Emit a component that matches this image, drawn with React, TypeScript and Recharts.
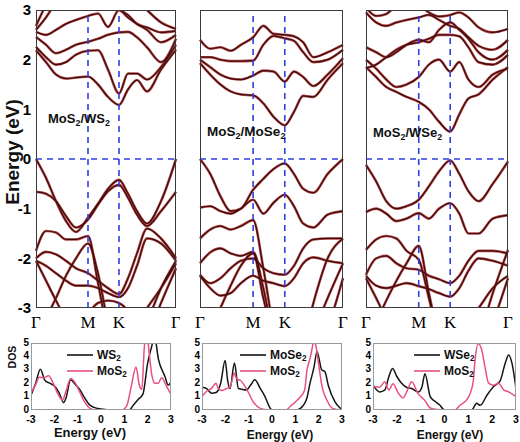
import React from 'react';
import { LineChart, Line, XAxis, YAxis, ReferenceLine, Legend } from 'recharts';

// ---------- band structure data ----------
const kPath = [0, 10, 20, 30, 40, 52, 62, 72, 83, 92, 101, 111, 125, 140];
const kTicks = [0, 52, 83, 140];
const kLabels = ['Γ', 'M', 'K', 'Γ'];
const energyTicks = [-3, -2, -1, 0, 1, 2, 3];

const bandsMoS2WS2 = [
  [2.19, 1.95, 1.7, 1.62, 1.64, 1.66, 1.5, 1.25, 1.09, 1.4, 1.59, 1.36, 1.8, 2.2],
  [2.26, 2.05, 1.9, 1.95, 2.1, 2.18, 2.19, 1.8, 1.32, 1.72, 1.72, 1.6, 1.85, 2.3],
  [2.46, 2.3, 2.13, 2.2, 2.3, 2.36, 2.42, 2.5, 2.55, 2.56, 2.45, 2.25, 1.95, 2.42],
  [2.56, 2.5, 2.6, 2.72, 2.8, 2.88, 2.93, 2.66, 3.0, 2.85, 2.72, 2.6, 2.35, 2.5],
  [2.6, 2.85, 3.15, 3.3, 3.2, 3.05, 3.0, 3.05, 3.0, 2.9, 2.72, 2.65, 2.55, 2.58],
  [2.68, 3.1, 3.4, 3.5, 3.4, 3.3, 3.2, 3.1, 3.1, 3.15, 3.2, 3.0, 2.75, 2.62],
  [0, -0.38, -0.85, -1.25, -1.47, -1.18, -0.9, -0.6, -0.42, -0.7, -1.05, -1.3, -0.85, 0],
  [-0.66, -0.7, -0.85, -1.15, -1.38, -1.22, -0.92, -0.65, -0.52, -0.78, -1.12, -1.35, -1.05, -0.66],
  [-1.85, -1.45, -1.48, -1.62, -1.62, -1.55, -2.5, -3.5, -4, -4, -3.8, -3.3, -2.6, -2.05],
  [-2.0, -1.87, -1.92, -2.05, -2.2, -2.3, -2.45, -2.6, -2.72, -2.4, -1.9, -1.4, -1.6, -2.0],
  [-2.05, -2.15, -2.3, -2.45, -2.55, -2.55, -2.6, -2.7, -2.78, -2.6, -2.15, -1.6, -1.7, -2.05],
  [-3.6, -3.2, -2.8, -2.35, -2.0, -1.7, -2.3, -3.3, -4, -4, -4, -3.6, -2.9, -2.2],
  [-2.05, -2.45, -2.85, -3.2, -3.3, -3.1, -2.9, -2.85, -2.9, -3.05, -3.3, -3.0, -2.6, -2.1],
];

const bandsMoS2MoSe2 = [
  [1.93, 1.7, 1.5, 1.36, 1.3, 1.28, 1.12, 0.85, 0.68, 0.95, 1.27, 1.25, 1.6, 1.93],
  [2.0, 1.85, 1.7, 1.62, 1.6, 1.68, 1.78, 1.76, 1.56, 1.76, 1.65, 1.47, 1.7, 2.03],
  [2.05, 2.05, 2.0, 1.97, 1.97, 1.98, 2.3, 2.48, 2.43, 2.38, 2.15, 1.95, 2.0, 2.2],
  [2.4, 2.22, 2.25, 2.18, 2.3, 2.45, 2.68, 2.52, 2.5, 2.47, 2.35, 2.05, 2.15, 2.3],
  [0, -0.3, -0.75, -1.05, -1.0, -0.62, -0.4, -0.2, -0.09, -0.3, -0.6, -0.68, -0.3, 0],
  [-0.98, -0.95, -1.05, -1.1, -1.0, -0.82, -1.1, -0.88, -0.72, -0.95, -1.3, -1.38, -1.12, -1.05],
  [-1.6, -1.42, -1.35, -1.42, -1.35, -1.23, -2.2, -3.4, -4, -4, -3.7, -2.9, -2.0, -1.6],
  [-2.1, -1.88, -1.8, -1.9, -1.95, -1.87, -2.6, -3.6, -4, -4, -4, -3.5, -2.8, -2.1],
  [-2.33, -2.5, -2.4, -2.2, -2.05, -2.0, -2.2, -2.3, -2.33, -2.15, -1.8, -1.62, -1.6, -1.6],
  [-2.35, -2.6, -2.75, -2.7, -2.5, -2.35, -2.45, -2.5, -2.56, -2.4, -2.1, -1.98, -2.05, -2.1],
  [-3.9, -3.5, -3.0, -2.55, -2.15, -1.9, -2.8, -3.6, -4, -4, -4, -4, -3.4, -2.4],
];

const bandsMoS2WSe2 = [
  [1.85, 1.65, 1.45, 1.35, 1.25, 1.15, 1.0, 0.75, 0.55, 0.9, 1.22, 1.3, 1.6, 1.85],
  [2.0, 1.82, 1.6, 1.45, 1.5, 1.65, 1.9, 2.0, 1.76, 1.95, 1.6, 1.45, 1.7, 1.82],
  [1.83, 1.9, 2.05, 2.2, 2.3, 2.35, 2.42, 2.5, 2.5, 2.47, 2.25, 1.95, 1.9, 2.1],
  [2.25, 2.15, 2.05, 2.15, 2.3, 2.4, 2.35, 2.6, 2.75, 2.6, 2.42, 2.15, 2.0, 2.2],
  [2.95, 2.75, 2.68, 2.75, 2.8, 2.85, 2.9, 2.8, 2.68, 2.62, 2.45, 2.28, 2.2, 2.4],
  [3.05, 2.88, 2.92, 3.1, 3.2, 3.1, 2.95, 2.87, 2.9, 2.95, 2.85, 2.65, 2.55, 2.62],
  [-0.12, -0.45, -0.85, -1.0, -0.95, -0.82, -0.55, -0.25, -0.03, -0.3, -0.65, -0.85, -0.5, -0.05],
  [-1.07, -1.0, -1.1, -1.25, -1.2, -1.09, -1.2, -1.0, -0.89, -1.1, -1.5, -1.5, -1.2, -1.13],
  [-1.83, -1.62, -1.55, -1.6, -1.85, -2.03, -2.8, -3.6, -4, -4, -4, -3.6, -2.7, -1.83],
  [-2.33, -2.0, -1.95, -2.1, -2.2, -2.23, -2.35, -2.42, -2.5, -2.35, -2.05, -1.85, -1.85, -1.9],
  [-2.35, -2.55, -2.6, -2.55, -2.5, -2.56, -2.62, -2.7, -2.77, -2.6, -2.25, -2.0, -2.05, -2.15],
  [-3.8, -3.3, -2.85, -2.45, -2.1, -1.75, -2.7, -3.6, -4, -4, -4, -4, -3.3, -2.4],
  [-2.4, -2.8, -3.2, -3.4, -3.3, -3.1, -3.0, -3.05, -3.2, -3.3, -3.25, -3.0, -2.6, -2.35],
];

// ---------- DOS data ----------
const dosTicksX = [-3, -2, -1, 0, 1, 2, 3];
const dosTicksY = [0, 1, 2, 3, 4, 5];

const ws2Energy = [-3, -2.8, -2.6, -2.4, -2.2, -2.0, -1.8, -1.6, -1.5, -1.3, -1.1, -0.9, -0.7, -0.5, -0.3, 0, 0.5, 1.0, 1.2, 1.4, 1.6, 1.8, 2.0, 2.15, 2.3, 2.46, 2.74, 2.88, 3.0];
const ws2Dos = [1.1, 2.0, 3.05, 2.2, 2.0, 1.8, 1.3, 0.55, 0.9, 2.25, 1.9, 1.5, 0.9, 0.4, 0.2, 0.08, 0, 0, 0, 0.4, 0.8, 1.2, 3.5, 4.6, 5.4, 3.8, 2.5, 1.85, 2.1];
const mos2AEnergy = [-3, -2.8, -2.65, -2.45, -2.25, -2.05, -1.85, -1.65, -1.5, -1.3, -1.1, -0.9, -0.7, -0.5, -0.3, 0, 0.9, 1.1, 1.3, 1.5, 1.65, 1.75, 1.85, 1.95, 2.05, 2.17, 2.31, 2.45, 2.6, 2.8, 3.0];
const mos2ADos = [1.3, 1.9, 2.45, 2.4, 2.55, 2.0, 1.2, 0.75, 1.4, 2.35, 2.0, 1.3, 0.6, 0.15, 0.02, 0, 0, 0.3, 1.8, 3.2, 1.8, 1.55, 4.5, 6.0, 4.5, 2.7, 2.0, 2.0, 2.4, 1.8, 1.15];

const mose2Energy = [-3, -2.8, -2.6, -2.4, -2.2, -2.01, -1.9, -1.8, -1.61, -1.44, -1.3, -1.09, -0.9, -0.74, -0.5, -0.3, -0.1, 0, 1.0, 1.2, 1.49, 1.63, 1.8, 1.93, 2.13, 2.27, 2.41, 2.7, 3.0];
const mose2Dos = [1.7, 1.6, 1.25, 1.3, 2.0, 3.7, 2.2, 1.6, 3.5, 1.6, 1.55, 1.5, 1.9, 2.25, 1.6, 1.0, 0.2, 0, 0, 0.1, 0.85, 2.0, 3.2, 4.35, 3.0, 2.85, 1.85, 0.6, 0.02];
const mos2BEnergy = [-3, -2.8, -2.6, -2.4, -2.3, -2.15, -1.95, -1.8, -1.7, -1.63, -1.5, -1.35, -1.1, -0.8, -0.5, -0.2, 0, 0.6, 0.8, 1.0, 1.2, 1.4, 1.5, 1.63, 1.72, 1.8, 1.88, 2.0, 2.15, 2.35, 2.6, 3.0];
const mos2BDos = [1.0, 1.4, 1.6, 2.0, 1.6, 1.45, 1.6, 1.7, 2.3, 2.75, 2.3, 2.2, 1.6, 0.6, 0.12, 0.02, 0, 0, 0.3, 0.6, 0.95, 1.5, 3.0, 3.85, 4.6, 5.3, 4.8, 3.4, 1.7, 0.75, 0.12, 0];

const wse2Energy = [-3, -2.72, -2.5, -2.35, -2.18, -2.0, -1.8, -1.6, -1.38, -1.1, -0.95, -0.82, -0.6, -0.4, -0.2, 0, 1.0, 1.14, 1.35, 1.5, 1.78, 2.06, 2.34, 2.55, 2.69, 2.83, 3.0];
const wse2Dos = [1.85, 1.35, 1.5, 2.4, 3.1, 2.5, 2.0, 1.7, 1.6, 1.35, 1.7, 2.7, 1.0, 0.65, 0.37, 0, 0, 0, 0.5, 0.35, 1.1, 1.75, 2.2, 3.5, 4.1, 3.5, 1.6];
const mos2CEnergy = [-3, -2.72, -2.51, -2.33, -2.16, -1.95, -1.74, -1.55, -1.38, -1.1, -0.82, -0.6, -0.3, 0, 0.44, 0.65, 0.93, 1.07, 1.21, 1.28, 1.42, 1.56, 1.7, 1.85, 2.06, 2.27, 2.48, 2.69, 3.0];
const mos2CDos = [1.75, 1.7, 2.1, 1.5, 1.95, 1.3, 0.9, 1.5, 2.1, 1.2, 0.7, 0.15, 0.03, 0, 0, 0.35, 0.75, 1.2, 2.2, 3.7, 4.95, 4.5, 3.2, 2.0, 1.85, 2.0, 1.5, 1.35, 1.0];

// ---------- styles ----------
const SANS = '"Liberation Sans", Arial, sans-serif';
const SERIF = '"Liberation Serif", "Times New Roman", serif';
const BAND_OUTER = '#b24848';
const BAND_INNER = '#3e0a0a';
const DASH_BLUE = '#2f3fe0';
const DOS_BLACK = '#151515';
const DOS_PINK = '#e8507f';

function chem(text: string) {
  const parts = text.split(/(\d+)/);
  return parts.map((p, i) =>
    /^\d+$/.test(p) ? (
      <sub key={i} style={{ fontSize: '0.68em', verticalAlign: '-0.3em', lineHeight: 0 }}>{p}</sub>
    ) : (
      <React.Fragment key={i}>{p}</React.Fragment>
    )
  );
}

function bandRows(bands: number[][]) {
  return kPath.map((k, i) => {
    const row: Record<string, number> = { k };
    bands.forEach((b, j) => {
      row['b' + j] = b[i];
    });
    return row;
  });
}

type BandProps = {
  left: number;
  width: number;
  padLeft: number;
  padRight: number;
  bands: number[][];
  showAxis: boolean;
  title: string;
  titleX: number;
  titleY: number;
  titleSize: number;
};

function BandPanel(p: BandProps) {
  const data = bandRows(p.bands);
  const yW = p.showAxis ? 36 : 0;
  const plotLeft = p.padLeft + yW;
  const plotW = p.width - plotLeft - p.padRight;
  return (
    <div style={{ position: 'absolute', left: p.left, top: 0, width: p.width, height: 340 }}>
      <LineChart width={p.width} height={340} data={data} margin={{ top: 10, right: p.padRight, bottom: 0, left: p.padLeft }}>
        <XAxis
          dataKey="k"
          type="number"
          domain={[0, 140]}
          ticks={kTicks}
          interval={0}
          tickFormatter={(v: number) => kLabels[kTicks.indexOf(v)]}
          axisLine={false}
          tickLine={false}
          height={32}
          tick={{ fontFamily: SERIF, fontSize: 17, fill: '#000' }}
        />
        {p.showAxis ? (
          <YAxis
            type="number"
            domain={[-3, 3]}
            ticks={energyTicks}
            interval={0}
            allowDataOverflow
            width={36}
            axisLine={false}
            tickLine={false}
            tickSize={3}
            tickMargin={2}
            tick={{ fontFamily: SANS, fontSize: 15, fontWeight: 'bold', fill: '#000' }}
          />
        ) : (
          <YAxis
            type="number"
            domain={[-3, 3]}
            ticks={energyTicks}
            interval={0}
            allowDataOverflow
            width={0}
            mirror
            axisLine={false}
            tick={false}
            tickSize={3}
            stroke="#555"
          />
        )}
        {p.bands.map((_, j) => (
          <Line key={'o' + j} dataKey={'b' + j} type="monotone" stroke={BAND_OUTER} strokeWidth={2.6} dot={false} activeDot={false} isAnimationActive={false} />
        ))}
        {p.bands.map((_, j) => (
          <Line key={'i' + j} dataKey={'b' + j} type="monotone" stroke={BAND_INNER} strokeWidth={1.2} dot={false} activeDot={false} isAnimationActive={false} />
        ))}
        <ReferenceLine y={0} stroke={DASH_BLUE} strokeWidth={1.6} strokeDasharray="6 5" />
        <ReferenceLine x={52} stroke={DASH_BLUE} strokeWidth={1.6} strokeDasharray="6 5" />
        <ReferenceLine x={83} stroke={DASH_BLUE} strokeWidth={1.6} strokeDasharray="6 5" />
      </LineChart>
      <div
        style={{
          position: 'absolute',
          left: plotLeft,
          top: 10,
          width: plotW,
          height: 298,
          border: '1px solid #3a3a3a',
          boxSizing: 'border-box',
          pointerEvents: 'none',
        }}
      />
      <div
        style={{
          position: 'absolute',
          left: p.titleX - p.left,
          top: p.titleY,
          fontFamily: SANS,
          fontWeight: 'bold',
          fontSize: p.titleSize,
          lineHeight: '14px',
          whiteSpace: 'nowrap',
          color: '#111',
        }}
      >
        {chem(p.title)}
      </div>
    </div>
  );
}

type DosSeries = { name: string; energy: number[]; dos: number[]; color: string };

type DosProps = {
  left: number;
  width: number;
  yW: number;
  padRight: number;
  series: DosSeries[];
  legendX: number;
  labelX: number;
  labelY: number;
  labelSize: number;
};

function makeLegend(legendX: number, order: string[]) {
  return (props: any) => {
    const items = [...(props.payload || [])].sort(
      (a: any, b: any) => order.indexOf(String(a.value)) - order.indexOf(String(b.value))
    );
    return (
      <div style={{ position: 'absolute', left: legendX, top: 14 }}>
        {items.map((it: any, i: number) => (
          <div key={i} style={{ display: 'flex', alignItems: 'center', height: 16 }}>
            <svg width={26} height={4} style={{ display: 'block' }}>
              <line x1={0} y1={2} x2={26} y2={2} stroke={it.color} strokeWidth={1.6} />
            </svg>
            <span style={{ marginLeft: 4, fontFamily: SANS, fontWeight: 'bold', fontSize: 12, color: '#111', whiteSpace: 'nowrap' }}>
              {chem(String(it.value))}
            </span>
          </div>
        ))}
      </div>
    );
  };
}

function DosPanel(p: DosProps) {
  const plotLeft = p.yW;
  const plotW = p.width - p.yW - p.padRight;
  const order = p.series.map((s) => s.name);
  return (
    <div style={{ position: 'absolute', left: p.left, top: 333, width: p.width, height: 91 }}>
      <LineChart width={p.width} height={91} margin={{ top: 10, right: p.padRight, bottom: 0, left: 0 }}>
        <XAxis
          dataKey="e"
          type="number"
          domain={[-3, 3]}
          ticks={dosTicksX}
          interval={0}
          allowDataOverflow
          axisLine={false}
          tickLine={false}
          tickSize={0}
          tickMargin={6}
          height={14}
          tick={{ fontFamily: SANS, fontSize: 10.5, fontWeight: 'bold', fill: '#000' }}
        />
        <YAxis
          type="number"
          domain={[0, 5]}
          ticks={dosTicksY}
          interval={0}
          allowDataOverflow
          width={p.yW}
          axisLine={false}
          tickLine={false}
          tickSize={0}
          tickMargin={2}
          tick={{ fontFamily: SANS, fontSize: 10, fontWeight: 'bold', fill: '#000', dy: -1 }}
        />
        {p.series.map((s) => (
          <Line
            key={s.name}
            name={s.name}
            data={s.energy.map((e, i) => ({ e, d: s.dos[i] }))}
            dataKey="d"
            type="monotone"
            stroke={s.color}
            strokeWidth={1.5}
            dot={false}
            activeDot={false}
            isAnimationActive={false}
          />
        ))}
        <Legend layout="vertical" align="center" verticalAlign="middle" content={makeLegend(p.legendX, order)} wrapperStyle={{ left: 0, top: 0, width: p.width, height: 0 }} />
      </LineChart>
      <div
        style={{
          position: 'absolute',
          left: plotLeft,
          top: 10,
          width: plotW,
          height: 67,
          border: '1px solid #9a9a9a',
          boxSizing: 'border-box',
          pointerEvents: 'none',
        }}
      />
      <div
        style={{
          position: 'absolute',
          left: p.labelX - p.left - 60,
          width: 120,
          textAlign: 'center',
          top: p.labelY - 333 - 6,
          fontFamily: SANS,
          fontWeight: 'bold',
          fontSize: p.labelSize,
          lineHeight: '12px',
          color: '#111',
        }}
      >
        Energy (eV)
      </div>
    </div>
  );
}

export default function App() {
  return (
    <div style={{ position: 'absolute', left: 0, top: 0, width: 520, height: 442, background: '#fff', overflow: 'hidden' }}>
      <div
        style={{
          position: 'absolute',
          left: 13 - 70,
          top: 152 - 12,
          width: 140,
          height: 24,
          lineHeight: '24px',
          textAlign: 'center',
          transform: 'rotate(-90deg)',
          fontFamily: SANS,
          fontWeight: 'bold',
          fontSize: 19,
          color: '#111',
          whiteSpace: 'nowrap',
        }}
      >
        Energy (eV)
      </div>
      <BandPanel left={0} width={180} padLeft={0} padRight={4} bands={bandsMoS2WS2} showAxis={true} title="MoS2/WS2" titleX={48} titleY={112} titleSize={13} />
      <BandPanel left={180} width={168} padLeft={20} padRight={5} bands={bandsMoS2MoSe2} showAxis={false} title="MoS2/MoSe2" titleX={207} titleY={125} titleSize={13.5} />
      <BandPanel left={348} width={170} padLeft={18} padRight={10} bands={bandsMoS2WSe2} showAxis={false} title="MoS2/WSe2" titleX={373} titleY={126} titleSize={13} />

      <div
        style={{
          position: 'absolute',
          left: 12 - 30,
          top: 357 - 7,
          width: 60,
          height: 14,
          lineHeight: '14px',
          textAlign: 'center',
          transform: 'rotate(-90deg)',
          fontFamily: SANS,
          fontWeight: 'bold',
          fontSize: 10.5,
          color: '#111',
        }}
      >
        DOS
      </div>
      <DosPanel
        left={0}
        width={180}
        yW={31}
        padRight={9}
        series={[
          { name: 'WS2', energy: ws2Energy, dos: ws2Dos, color: DOS_BLACK },
          { name: 'MoS2', energy: mos2AEnergy, dos: mos2ADos, color: DOS_PINK },
        ]}
        legendX={67}
        labelX={90}
        labelY={433}
        labelSize={13}
      />
      <DosPanel
        left={180}
        width={168}
        yW={22}
        padRight={6}
        series={[
          { name: 'MoSe2', energy: mose2Energy, dos: mose2Dos, color: DOS_BLACK },
          { name: 'MoS2', energy: mos2BEnergy, dos: mos2BDos, color: DOS_PINK },
        ]}
        legendX={60}
        labelX={280}
        labelY={435}
        labelSize={12}
      />
      <DosPanel
        left={350}
        width={170}
        yW={23}
        padRight={4}
        series={[
          { name: 'WSe2', energy: wse2Energy, dos: wse2Dos, color: DOS_BLACK },
          { name: 'MoS2', energy: mos2CEnergy, dos: mos2CDos, color: DOS_PINK },
        ]}
        legendX={64}
        labelX={450}
        labelY={435}
        labelSize={12}
      />
    </div>
  );
}
